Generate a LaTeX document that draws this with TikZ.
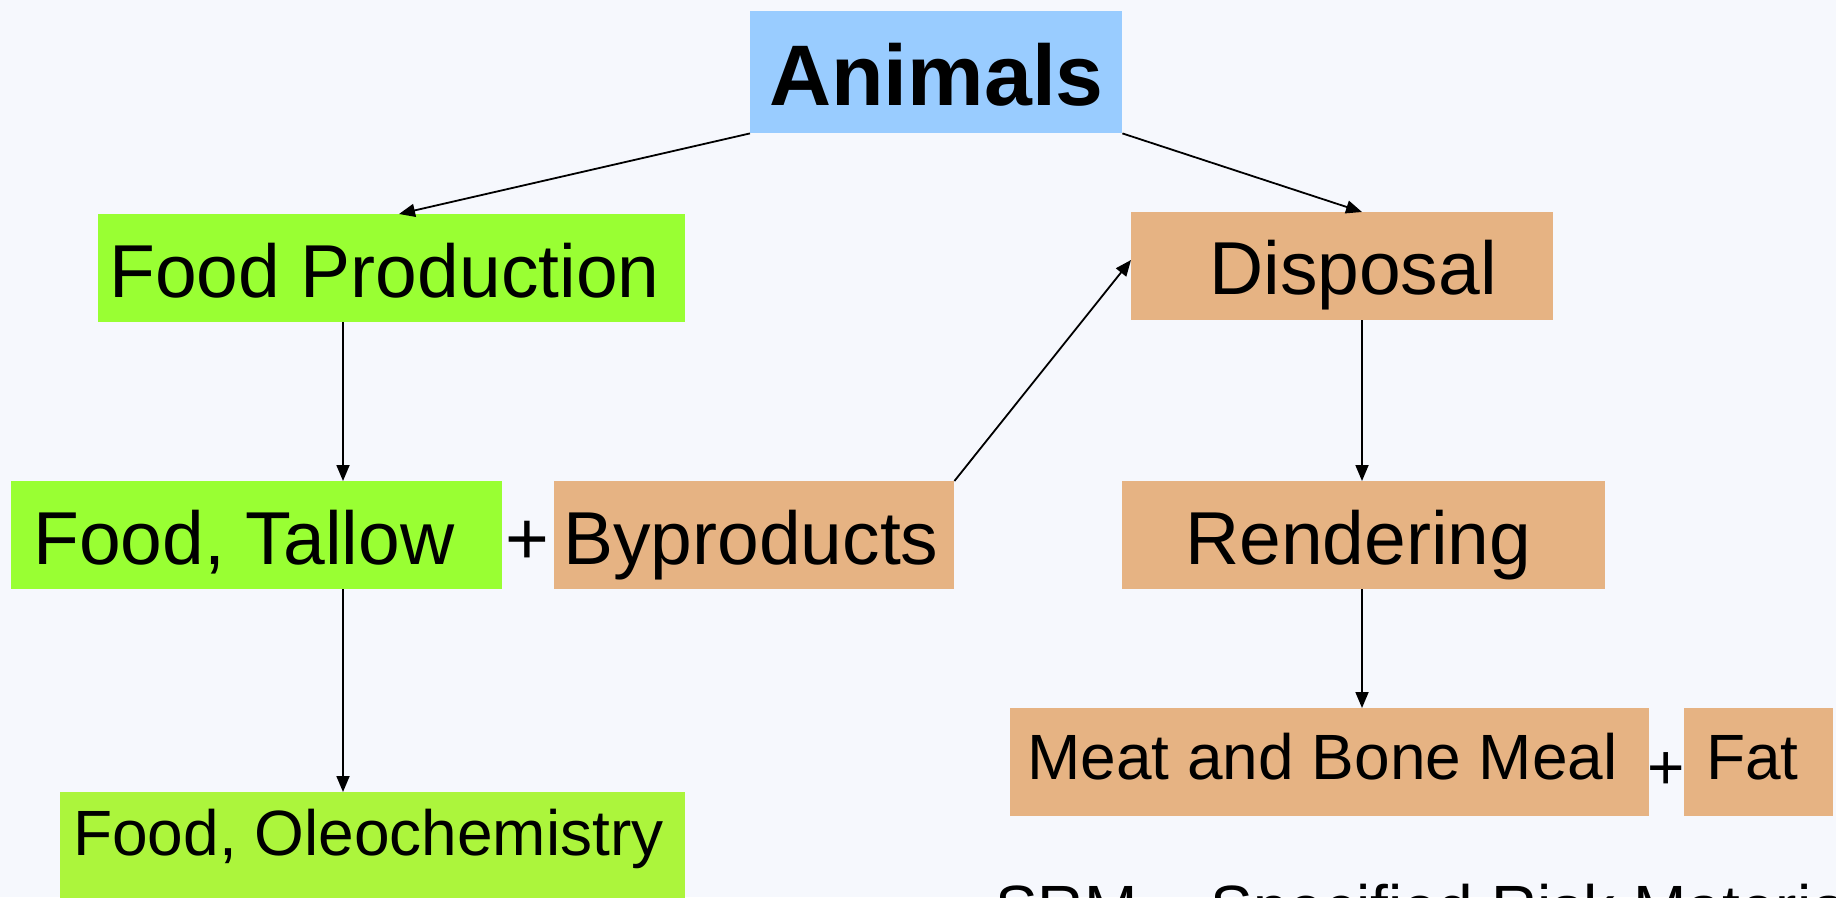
\documentclass[tikz,border=0pt]{standalone}
\usepackage{fontspec}
\setmainfont{Liberation Sans}
\usetikzlibrary{arrows.meta}
\definecolor{bgc}{HTML}{F6F8FD}
\definecolor{bluec}{HTML}{99CCFF}
\definecolor{greenc}{HTML}{99FF33}
\definecolor{limec}{HTML}{ACF53C}
\definecolor{tanc}{HTML}{E6B383}
\tikzset{
  boxn/.style={rectangle, draw=none, inner sep=0pt, anchor=north west},
  txtbig/.style={anchor=base west, inner sep=0pt, font=\fontsize{75}{90}\selectfont},
  txtmid/.style={anchor=base west, inner sep=0pt, font=\fontsize{64}{77}\selectfont},
  conn/.style={line width=1.8pt, -{Triangle[length=16pt,width=13pt]}}
}
\begin{document}
\begin{tikzpicture}[x=1pt,y=-1pt]
\useasboundingbox (0,0) rectangle (1836,897);
\fill[bgc] (0,0) rectangle (1836,897);
% boxes
\node[boxn, fill=bluec, minimum width=372pt, minimum height=122pt] (anim) at (750,11) {};
\node[boxn, fill=greenc, minimum width=587pt, minimum height=108pt] (fp) at (98,214) {};
\node[boxn, fill=tanc, minimum width=422pt, minimum height=108pt] (disp) at (1131,212) {};
\node[boxn, fill=greenc, minimum width=491pt, minimum height=108pt] (ft) at (11,481) {};
\node[boxn, fill=tanc, minimum width=400pt, minimum height=108pt] (by) at (554,481) {};
\node[boxn, fill=tanc, minimum width=483pt, minimum height=108pt] (rend) at (1122,481) {};
\node[boxn, fill=tanc, minimum width=639pt, minimum height=108pt] (mbm) at (1010,708) {};
\node[boxn, fill=tanc, minimum width=149pt, minimum height=108pt] (fat) at (1684,708) {};
\node[boxn, fill=limec, minimum width=625pt, minimum height=108pt] (fo) at (60,792) {};
% texts
\node[anchor=base west, inner sep=0pt, font=\fontsize{86}{100}\selectfont\bfseries] (tanim) at (769,105) {Animals};
\node[txtbig] (tfp) at (109,297) {Food Production};
\node[txtbig] (tdisp) at (1209,294) {Disposal};
\node[txtbig] (tft) at (33,564) {Food, Tallow};
\node[txtbig, anchor=base] (plus1) at (527,564) {+};
\node[txtbig] (tby) at (563,564) {Byproducts};
\node[txtbig] (trend) at (1185,564) {Rendering};
\node[txtmid] (tmbm) at (1027,779) {Meat and Bone Meal};
\node[txtmid, anchor=base] (plus2) at (1666,789) {+};
\node[txtmid] (tfat) at (1706,779) {Fat};
\node[txtmid] (tfo) at (73,855) {Food, Oleochemistry};
\node[txtmid] (srm) at (995,930) {SRM = Specified Risk Material};
% connectors
\draw[conn] (anim.south west) -- ([xshift=301pt]fp.north west);
\draw[conn] (anim.south east) -- ([xshift=231pt]disp.north west);
\draw[conn] ([xshift=245pt]fp.south west) -- ([xshift=332pt]ft.north west);
\draw[conn] ([xshift=332pt]ft.south west) -- ([xshift=283pt]fo.north west);
\draw[conn] (by.north east) -- ([yshift=-48pt]disp.north west);
\draw[conn] ([xshift=231pt]disp.south west) -- ([xshift=240pt]rend.north west);
\draw[conn] ([xshift=240pt]rend.south west) -- ([xshift=352pt]mbm.north west);
\end{tikzpicture}
\end{document}
